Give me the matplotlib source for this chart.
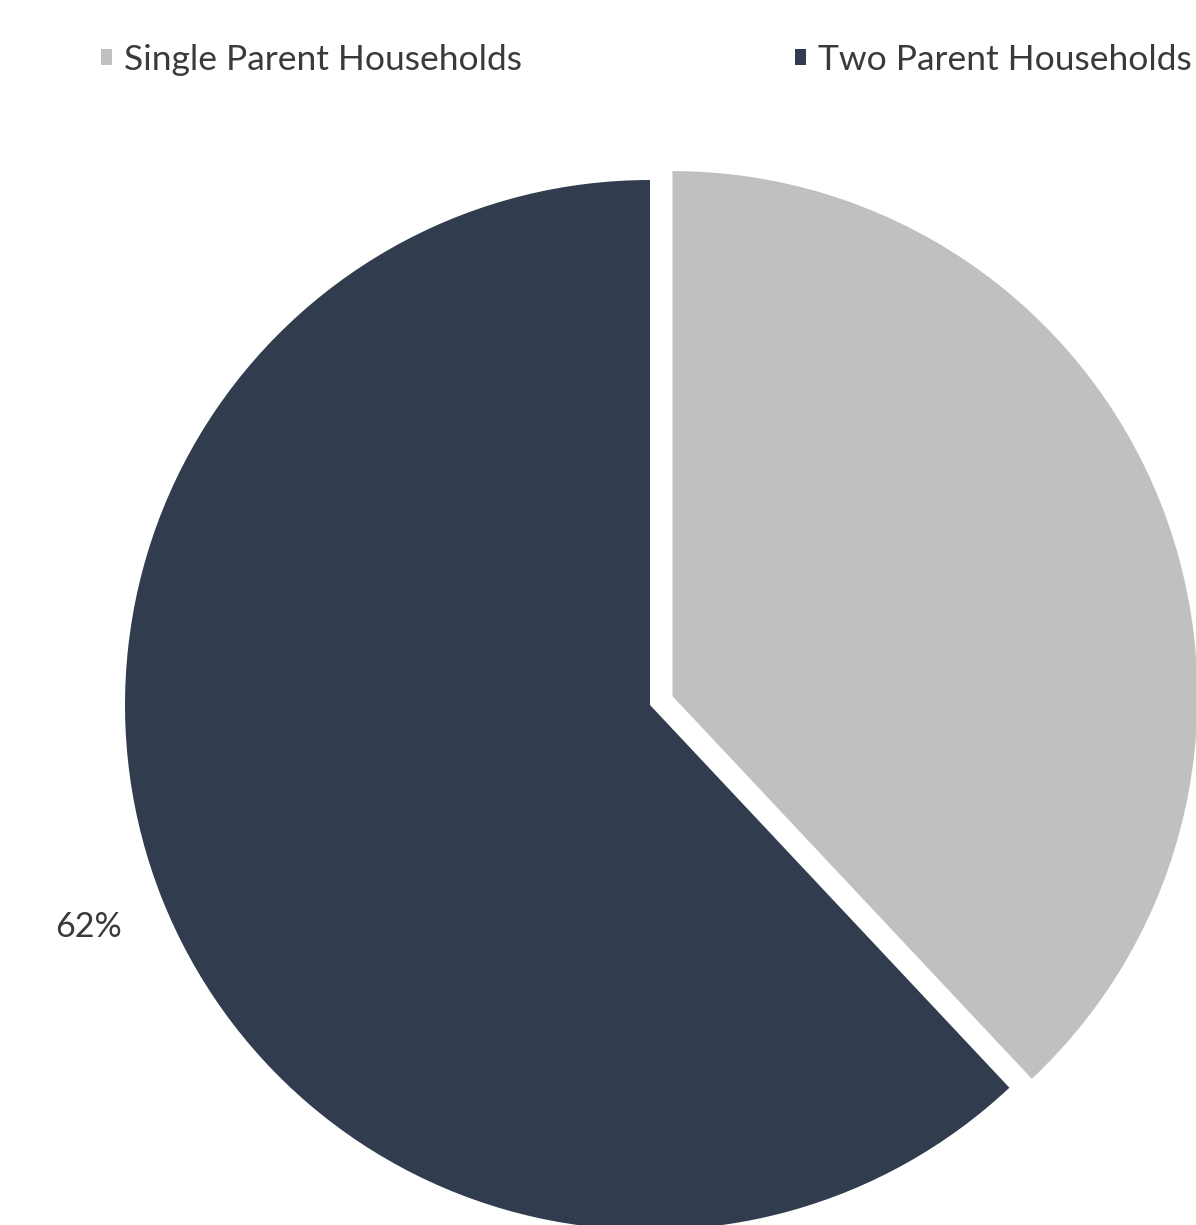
import matplotlib
matplotlib.use("Agg")
import matplotlib.pyplot as plt
from matplotlib.patches import Patch

# Household structure shares
categories = ["Single Parent Households", "Two Parent Households"]
shares = [38, 62]
colors = ["#c0c0c0", "#323c4f"]
explode_frac = [0.046, 0.0]

W, H = 1196, 1225
fig = plt.figure(figsize=(W / 100, H / 100), dpi=100)
ax = fig.add_axes([0, 0, 1, 1])

cx, cy, r = 650, H - 705, 525
wedges, texts, autotexts = ax.pie(
    shares,
    colors=colors,
    explode=[f * r for f in explode_frac],  # pie offsets are in data units
    startangle=90,
    counterclock=False,
    center=(cx, cy),
    radius=r,
    autopct=lambda p: f"{p:.0f}%" if p > 50 else "",
    pctdistance=1.15,
    textprops=dict(color="#3a3a3a", fontsize=24.5, family="Lato"),
    wedgeprops=dict(linewidth=0),
)

ax.set_xlim(0, W)
ax.set_ylim(0, H)
ax.set_aspect("equal")
ax.axis("off")

handles = [Patch(facecolor=c, edgecolor="none") for c in colors]
fig.legend(
    handles, categories,
    loc="center", bbox_to_anchor=(0.5405, 1 - 60 / H),
    ncol=2, frameon=False,
    prop=dict(family="Lato", size=25.5),
    labelcolor="#3a3a3a",
    handlelength=0.31, handleheight=0.31, handletextpad=0.34,
    columnspacing=7.7,
)

fig.savefig("out.png", dpi=100, facecolor="white")
